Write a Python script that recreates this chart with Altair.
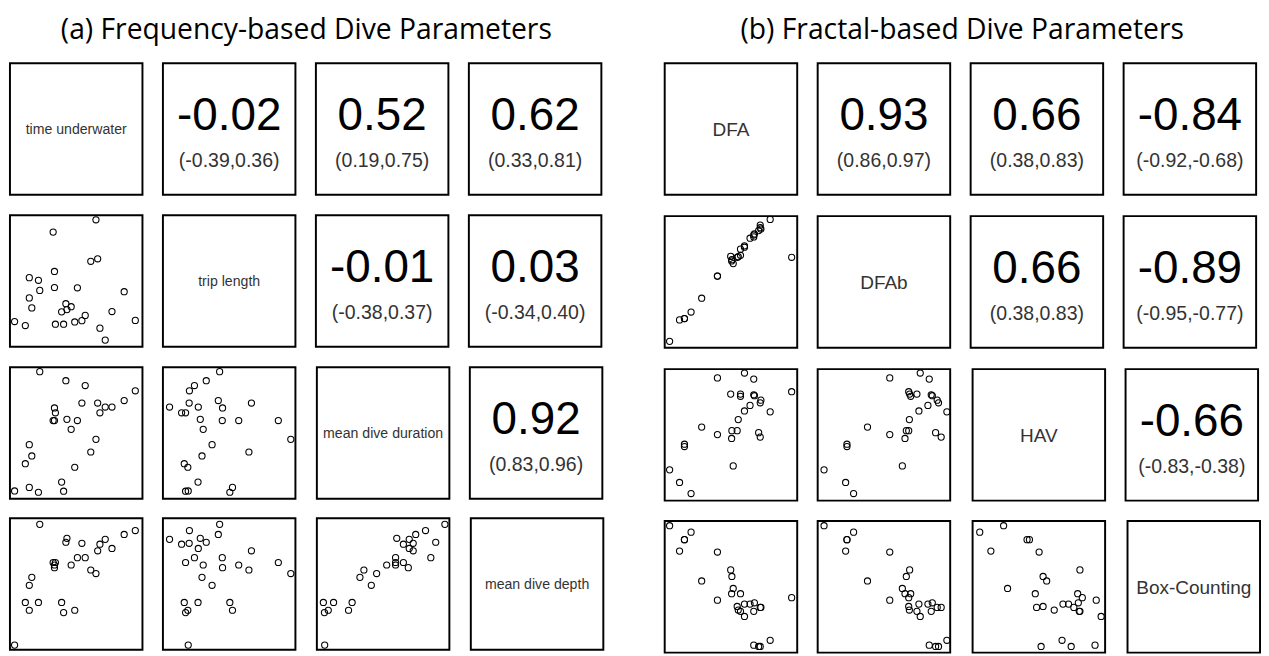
import altair as alt
import pandas as pd

# ---------------- (a) Frequency-based dive parameters ----------------
A_LABELS = ["time underwater", "trip length", "mean dive duration", "mean dive depth"]
TU = [3.5, 11.6, 14.6, 14.6, 16.5, 21.5, 22.5, 32.6, 33.6, 33.6, 34.3, 39.0, 40.5, 42.2,
      43.0, 46.2, 48.9, 50.9, 54.3, 56.8, 61.0, 64.9, 66.2, 67.9, 71.9, 77.0, 86.2, 94.6]
TL = [19.1, 16.1, 52.5, 37.1, 29.5, 50.5, 42.8, 87.1, 57.2, 45.0, 17.1, 26.5, 17.1, 32.7,
      28.2, 30.4, 18.8, 44.8, 19.8, 23.8, 64.9, 96.5, 66.8, 14.1, 5.0, 26.7, 41.8, 20.0]
MDUR = [5.9, 26.6, 8.6, 41.1, 32.5, 4.9, 96.6, 59.4, 59.4, 69.0, 65.3, 12.6, 5.7, 89.7,
        60.3, 52.7, 23.9, 59.4, 72.7, 86.0, 35.5, 45.1, 72.7, 65.3, 69.7, 69.7, 74.6, 82.0]
MDEP = [3.5, 35.9, 30.0, 49.0, 55.0, 35.9, 95.3, 66.3, 64.4, 62.4, 66.3, 35.9, 28.2, 81.7,
        84.7, 64.4, 30.0, 70.0, 80.9, 70.0, 60.6, 57.9, 75.2, 80.2, 83.9, 77.0, 87.6, 90.6]
# upper-triangle cells in order (0,1) (0,2) (0,3) (1,2) (1,3) (2,3)
A_R = ["-0.02", "0.52", "0.62", "-0.01", "0.03", "0.92"]
A_CI = ["(-0.39,0.36)", "(0.19,0.75)", "(0.33,0.81)", "(-0.38,0.37)", "(-0.34,0.40)", "(0.83,0.96)"]

# ---------------- (b) Fractal-based dive parameters ----------------
B_LABELS = ["DFA", "DFAb", "HAV", "Box-Counting"]
DFA = [60.2, 39.8, 67.2, 95.8, 49.8, 57.2, 57.2, 67.2, 67.7, 72.6, 72.1, 64.4, 60.2, 79.6,
       55.5, 27.9, 39.8, 50.7, 54.7, 50.5, 70.9, 72.1, 14.9, 14.9, 51.7, 3.7, 11.2, 19.9]
DFAB = [77.4, 54.4, 84.2, 68.7, 69.4, 74.9, 70.2, 85.7, 86.5, 90.2, 91.2, 83.2, 76.4, 97.5,
        69.2, 37.6, 54.4, 66.9, 68.7, 65.9, 89.0, 93.2, 22.1, 22.1, 63.9, 4.8, 21.1, 27.1]
HAV = [97.0, 93.3, 92.4, 82.8, 81.0, 81.0, 79.3, 80.5, 79.8, 76.4, 74.4, 72.4, 68.2, 67.5,
       61.6, 55.9, 50.2, 53.2, 53.2, 47.3, 51.7, 48.3, 42.9, 41.1, 26.4, 23.4, 13.8, 5.4]
BOXC = [27.5, 39.9, 5.7, 41.8, 62.9, 31.4, 44.8, 31.4, 37.9, 34.4, 4.7, 36.9, 36.9, 9.4,
        32.4, 54.5, 76.5, 57.9, 35.1, 44.8, 4.7, 34.4, 85.9, 85.9, 48.8, 96.5, 77.2, 91.6]
B_R = ["0.93", "0.66", "-0.84", "0.66", "-0.89", "-0.66"]
B_CI = ["(0.86,0.97)", "(0.38,0.83)", "(-0.92,-0.68)", "(0.38,0.83)", "(-0.95,-0.77)", "(-0.83,-0.38)"]

CW = 136
CH = 135
FONT = "Liberation Sans"


def scatter(df, xv, yv):
    sc = alt.Scale(domain=[0, 100], nice=False, zero=False)
    return alt.Chart(df).mark_point(
        shape="circle", filled=False, color="black", size=40, strokeWidth=1.1, opacity=1
    ).encode(
        x=alt.X(f"{xv}:Q", scale=sc, axis=None),
        y=alt.Y(f"{yv}:Q", scale=sc, axis=None),
    ).properties(width=CW, height=CH)


def label_cell(text, size):
    return alt.Chart(pd.DataFrame({"t": [text]})).mark_text(
        font=FONT, fontSize=size, color="#333333", align="center", baseline="middle"
    ).encode(
        text="t:N", x=alt.value(CW / 2), y=alt.value(69)
    ).properties(width=CW, height=CH)


def cor_cell(r, ci):
    d = pd.DataFrame({"r": [r], "ci": [ci]})
    big = alt.Chart(d).mark_text(
        font=FONT, fontSize=47, color="black", align="center", baseline="middle"
    ).encode(text="r:N", x=alt.value(CW / 2), y=alt.value(55))
    small = alt.Chart(d).mark_text(
        font=FONT, fontSize=20, color="#333333", align="center", baseline="middle"
    ).encode(text="ci:N", x=alt.value(CW / 2), y=alt.value(101))
    return alt.layer(big, small).properties(width=CW, height=CH)


def matrix(cols, labels, rs, cis, label_size, title):
    df = pd.DataFrame({f"v{k}": v for k, v in enumerate(cols)})
    upper = {}
    n = 0
    for i in range(4):
        for j in range(i + 1, 4):
            upper[(i, j)] = (rs[n], cis[n])
            n += 1
    rows = []
    for i in range(4):
        cells = []
        for j in range(4):
            if i == j:
                cells.append(label_cell(labels[i], label_size))
            elif i < j:
                cells.append(cor_cell(*upper[(i, j)]))
            else:
                cells.append(scatter(df, f"v{j}", f"v{i}"))
        rows.append(alt.hconcat(*cells, spacing=19))
    return alt.vconcat(
        *rows, spacing=18,
        title=alt.TitleParams(title, font="Open Sans", fontSize=29, fontWeight="normal",
                              color="black", anchor="middle", offset=18),
    )


panel_a = matrix([TU, TL, MDUR, MDEP], A_LABELS, A_R, A_CI, 14.5,
                 "(a) Frequency-based Dive Parameters")
panel_b = matrix([DFA, DFAB, HAV, BOXC], B_LABELS, B_R, B_CI, 19.5,
                 "(b) Fractal-based Dive Parameters")

chart = alt.hconcat(panel_a, panel_b, spacing=60).properties(
    padding=0, background="white"
).configure_view(stroke="black", strokeWidth=2)

chart.save("out.html", embed_options={"renderer": "svg", "actions": False})
